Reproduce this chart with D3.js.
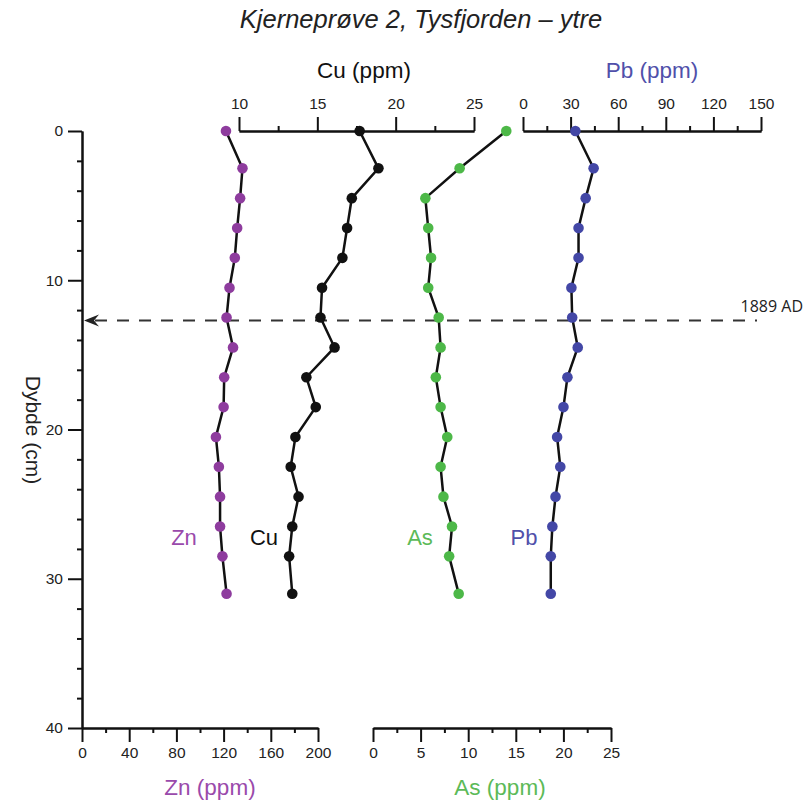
<!DOCTYPE html>
<html><head><meta charset="utf-8">
<script src="https://cdn.jsdelivr.net/npm/d3@7"></script>
<style>
html,body{margin:0;padding:0;background:#fff;}
svg text{font-family:"Liberation Sans",Arial,sans-serif;}
</style></head>
<body><svg id="c" width="805" height="807"></svg>
<script>
const depth = [0,2.5,4.5,6.5,8.5,10.5,12.5,14.5,16.5,18.5,20.5,22.5,24.5,26.5,28.5,31];
const zn = [122,136,134,131.5,129.5,125,122.5,128,120.5,120,113.5,116,117,117,119,122.5];
const cu = [17.7,18.9,17.2,16.9,16.6,15.3,15.2,16.1,14.3,14.9,13.6,13.3,13.8,13.4,13.2,13.4];
const as = [14,9.1,5.5,5.8,6.1,5.8,6.9,7.1,6.6,7.1,7.8,7.1,7.4,8.3,8.0,9.0];
const pb = [33,44.5,39.5,35,35,30.5,31,34.5,28,25.5,21.5,23.5,20.5,18.5,17.5,17.5];
const depthTicks = [0,10,20,30,40];
const depthMinor = [2,4,6,8,12,14,16,18,22,24,26,28,32,34,36,38];
const znTicks = [0,40,80,120,160,200], znMinor = [20,60,100,140,180];
const asTicks = [0,5,10,15,20,25], asMinor = [2.5,7.5,12.5,17.5,22.5];
const cuTicks = [10,15,20,25], cuMinor = [12.5,17.5,22.5];
const pbTicks = [0,30,60,90,120,150], pbMinor = [15,45,75,105,135];
const markerDepth = 12.7, markerLabel = "1889 AD";

const colZn = "#8e3c9e", colCu = "#111", colAs = "#4db848", colPb = "#4347a6";
const svg = d3.select("#c");
const y = d3.scaleLinear([0,40],[131,728]);
const xZn = d3.scaleLinear([0,200],[82,318]);
const xCu = d3.scaleLinear([10,25],[239,474]);
const xAs = d3.scaleLinear([0,25],[373,611]);
const xPb = d3.scaleLinear([0,150],[523,761]);

function styleAxis(g){
  g.selectAll("path.domain").attr("stroke","#111").attr("stroke-width",2);
  g.selectAll(".tick line").attr("stroke","#111").attr("stroke-width",2);
  g.selectAll(".tick text").attr("fill","#222").style("font-size","15.5px").style("font-family","Liberation Sans, Arial, sans-serif");
}
function addAxis(axisFn, scale, major, minor, transform, majorLen, minorLen, pad){
  const gMin = svg.append("g").attr("transform",transform)
    .call(axisFn(scale).tickValues(minor).tickSize(minorLen).tickSizeOuter(0).tickFormat(""));
  styleAxis(gMin);
  const gMaj = svg.append("g").attr("transform",transform)
    .call(axisFn(scale).tickValues(major).tickSize(majorLen).tickSizeOuter(0).tickPadding(pad).tickFormat(d3.format("")));
  styleAxis(gMaj);
  return gMaj;
}
// depth axis
addAxis(d3.axisLeft, y, depthTicks, depthMinor, "translate(82,0)", 14, 5, 5);
// bottom axes
addAxis(d3.axisBottom, xZn, znTicks, znMinor, "translate(0,728)", 14, 5, 5);
addAxis(d3.axisBottom, xAs, asTicks, asMinor, "translate(0,728)", 14, 5, 5);
// top axes
addAxis(d3.axisTop, xCu, cuTicks, cuMinor, "translate(0,131)", 14, 5, 8);
addAxis(d3.axisTop, xPb, pbTicks, pbMinor, "translate(0,131)", 14, 5, 8);

// marker line
svg.append("line").attr("x1",95).attr("x2",757).attr("y1",y(markerDepth)).attr("y2",y(markerDepth))
  .attr("stroke","#333").attr("stroke-width",2).attr("stroke-dasharray","12,10");
svg.append("path").attr("d",`M84,${y(markerDepth)} L99,${y(markerDepth)-6} L94,${y(markerDepth)} L99,${y(markerDepth)+6} Z`).attr("fill","#222");
svg.append("text").attr("x",803).attr("y",y(markerDepth)-9).attr("text-anchor","end")
  .style("font-family","Open Sans, Noto Sans, sans-serif").style("font-size","16px").attr("fill","#222").text(markerLabel);

// series
const series = [
  {v:zn, x:xZn, c:colZn},
  {v:cu, x:xCu, c:colCu},
  {v:as, x:xAs, c:colAs},
  {v:pb, x:xPb, c:colPb}
];
series.forEach(s=>{
  const pts = depth.map((d,i)=>[s.x(s.v[i]), y(d)]);
  svg.append("path").attr("d",d3.line()(pts)).attr("fill","none").attr("stroke","#111").attr("stroke-width",2.5);
  svg.append("g").selectAll("circle").data(pts).join("circle")
    .attr("cx",d=>d[0]).attr("cy",d=>d[1]).attr("r",5.3).attr("fill",s.c);
});

// series labels
const lab = (t,x,yy,c,anchor,size)=>svg.append("text").attr("x",x).attr("y",yy).attr("text-anchor",anchor||"middle")
  .attr("fill",c).style("font-size",(size||22)+"px").text(t);
lab("Zn",184,545,"#9a4aab");
lab("Cu",264,545,"#111");
lab("As",420,545,"#5cba58");
lab("Pb",524,545,"#5050aa");

// axis titles
lab("Cu (ppm)",364,78,"#111",null,22.5);
lab("Pb (ppm)",652,78,"#5050aa",null,22.5);
lab("Zn (ppm)",210,795,"#9a4aab",null,22.5);
lab("As (ppm)",500,795,"#5cba58",null,22.5);
svg.append("text").attr("transform","translate(26,430) rotate(90)").attr("text-anchor","middle")
  .attr("fill","#222").style("font-size","21px").text("Dybde (cm)");

// title
svg.append("text").attr("x",421).attr("y",28).attr("text-anchor","middle").attr("fill","#222")
  .style("font-size","25.5px").style("font-style","italic").text("Kjerneprøve 2, Tysfjorden – ytre");
</script></body></html>
